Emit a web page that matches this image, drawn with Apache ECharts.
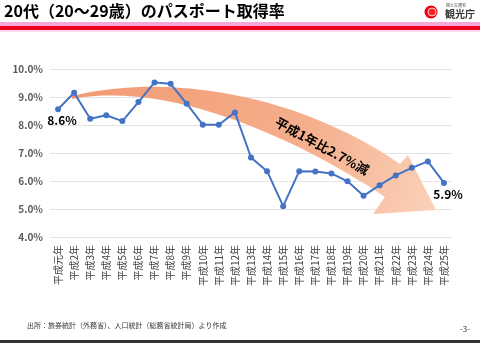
<!DOCTYPE html>
<html><head><meta charset="utf-8">
<script src="https://cdn.jsdelivr.net/npm/echarts@6/dist/echarts.min.js"></script>
<style>html,body{margin:0;padding:0;background:#fff}#c{width:480px;height:343px}</style>
</head><body><div id="c"></div>
<script>
const categories = ['平成元年','平成2年','平成3年','平成4年','平成5年','平成6年','平成7年','平成8年','平成9年','平成10年','平成11年','平成12年','平成13年','平成14年','平成15年','平成16年','平成17年','平成18年','平成19年','平成20年','平成21年','平成22年','平成23年','平成24年','平成25年'];
const rates = [8.56,9.15,8.22,8.35,8.14,8.82,9.52,9.47,8.76,8.01,8.01,8.45,6.84,6.35,5.10,6.35,6.34,6.27,5.99,5.47,5.85,6.20,6.47,6.70,5.93];
const labelled = {0:'8.6%', 24:'5.9%'};
const yTicks = {min:4, max:10, step:1};
const titleText = '20代（20～29歳）のパスポート取得率';
const arrowText = '平成1年比2.7%減';
const sourceText = '出所：旅券統計（外務省）、人口統計（総務省統計局）より作成';

const F = "'Noto Sans CJK JP', sans-serif";
function bez(p0,p1,p2,p3,n){const o=[];for(let i=0;i<=n;i++){const t=i/n,a=(1-t)**3,b=3*(1-t)**2*t,c=3*(1-t)*t*t,d=t**3;o.push([a*p0[0]+b*p1[0]+c*p2[0]+d*p3[0],a*p0[1]+b*p1[1]+c*p2[1]+d*p3[1]]);}return o;}
const arrowPts = [].concat(
  bez([72,96],[170,72],[300,95],[400,164],30),
  [[408,155],[436,210],[373,214]],
  bez([385,197],[300,140],[170,80],[72,99],30));

const chart = echarts.init(document.getElementById('c'));
const seriesData = rates.map((v,i)=> labelled[i] ? {value:v, label:{show:true, formatter:labelled[i], position:'bottom', distance:2, offset:[4,0], fontWeight:'bold', fontSize:12, color:'#000', fontFamily:F}} : v);

chart.setOption({
  animation:false,
  grid:{left:50, right:28, top:69, bottom:106},
  xAxis:{type:'category', data:categories, boundaryGap:true,
    axisLine:{show:false}, axisTick:{show:false},
    axisLabel:{rotate:90, interval:0, fontSize:10, color:'#404040', fontFamily:F, margin:8}},
  yAxis:{type:'value', min:yTicks.min, max:yTicks.max, interval:yTicks.step,
    axisLine:{show:false}, axisTick:{show:false},
    splitLine:{lineStyle:{color:'#E4E4E4', width:1}},
    axisLabel:{formatter:v=>v.toFixed(1)+'%', fontSize:10, fontWeight:'bold', color:'#595959', fontFamily:F, margin:7}},
  series:[{type:'line', data:seriesData, z:5, symbol:'circle', symbolSize:6,
    lineStyle:{color:'#4472C4', width:2}, itemStyle:{color:'#4472C4'}}],
  graphic:{elements:[
    {type:'rect', shape:{x:0,y:22,width:480,height:4}, style:{fill:'#F7A6D8'}},
    {type:'rect', shape:{x:0,y:26,width:480,height:4}, style:{fill:'#E8001C'}},
    {type:'rect', shape:{x:0,y:30,width:480,height:2}, style:{fill:'#FBD9EE'}},
    {type:'text', x:4, y:3, style:{text:titleText, font:"bold 16px "+F, fill:'#000'}},
    {type:'circle', shape:{cx:431,cy:12,r:6.5}, style:{fill:'#E60012'}},
    {type:'circle', shape:{cx:432,cy:12,r:4}, style:{fill:'#ff2020', stroke:'#fff', lineWidth:0.8}},
    {type:'text', x:446, y:3, style:{text:'国土交通省', font:"4px "+F, fill:'#444'}},
    {type:'text', x:445, y:9, style:{text:'観光庁', font:"bold 10px "+F, fill:'#333'}},
    {type:'polygon', z:1, shape:{points:arrowPts},
      style:{fill:{type:'linear', x:0, y:0, x2:1, y2:1, colorStops:[{offset:0,color:'#F29A73'},{offset:0.6,color:'#F5AE8B'},{offset:1,color:'#FAD2BA'}]}}},
    {type:'text', z:2, x:322, y:146, rotation:-0.5, style:{text:arrowText, font:"bold 13px "+F, fill:'#000', align:'center', verticalAlign:'middle'}},
    {type:'text', x:27, y:322, style:{text:sourceText, font:"7px "+F, fill:'#333'}},
    {type:'text', x:460, y:325, style:{text:'-3-', font:"8px "+F, fill:'#333'}},
    {type:'rect', shape:{x:0,y:340,width:480,height:3}, style:{fill:'#333'}}
  ]}
});
</script></body></html>
